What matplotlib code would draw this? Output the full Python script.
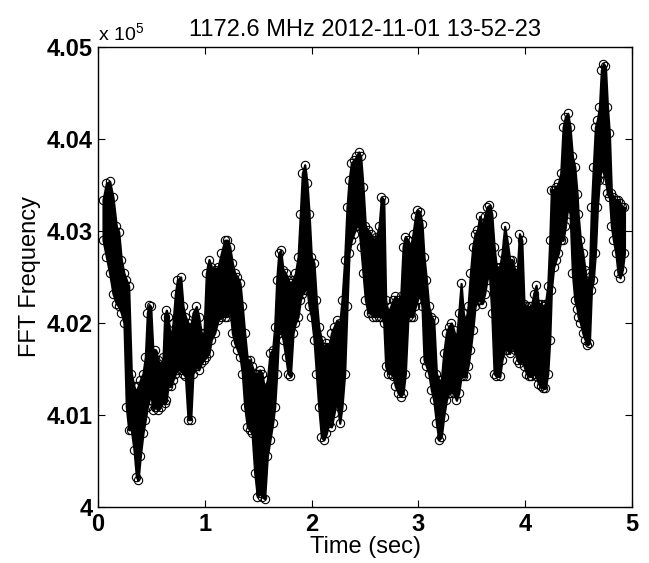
import numpy as np
import matplotlib
matplotlib.use("Agg")
import matplotlib.pyplot as plt

plt.rcParams.update({
    "font.family": ["Liberation Sans", "DejaVu Sans"],
    "mathtext.fontset": "custom",
    "mathtext.rm": "Liberation Sans",
    "axes.linewidth": 1.0,
})

TITLE = "1172.6 MHz 2012-11-01 13-52-23"

# time (s) of the trace, with the upper / lower edge of the dense marker band (Hz)
T = [0.047, 0.078, 0.109, 0.140, 0.172, 0.194, 0.218, 0.243, 0.265, 0.287,
     0.312, 0.337, 0.359, 0.375, 0.396, 0.421, 0.443, 0.462, 0.478, 0.493,
     0.515, 0.537, 0.562, 0.587, 0.609, 0.624, 0.640, 0.655, 0.680, 0.702,
     0.724, 0.743, 0.774, 0.796, 0.818, 0.843, 0.868, 0.889, 0.921, 0.943,
     0.967, 0.992, 1.014, 1.039, 1.061, 1.092, 1.124, 1.155, 1.186, 1.211,
     1.233, 1.258, 1.280, 1.305, 1.330, 1.351, 1.373, 1.398, 1.420, 1.442,
     1.467, 1.492, 1.514, 1.535, 1.560, 1.585, 1.610, 1.635, 1.654, 1.673,
     1.692, 1.710, 1.732, 1.757, 1.779, 1.801, 1.826, 1.848, 1.873, 1.894,
     1.913, 1.935, 1.957, 1.976, 1.997, 2.022, 2.044, 2.066, 2.091, 2.113,
     2.138, 2.160, 2.185, 2.210, 2.235, 2.263, 2.284, 2.309, 2.331, 2.350,
     2.372, 2.394, 2.419, 2.441, 2.459, 2.481, 2.503, 2.528, 2.553, 2.578,
     2.606, 2.631, 2.653, 2.675, 2.693, 2.715, 2.740, 2.762, 2.784, 2.809,
     2.834, 2.856, 2.877, 2.902, 2.927, 2.949, 2.971, 2.990, 3.012, 3.033,
     3.052, 3.074, 3.096, 3.121, 3.143, 3.168, 3.190, 3.214, 3.236, 3.261,
     3.283, 3.308, 3.330, 3.355, 3.377, 3.399, 3.420, 3.442, 3.464, 3.486,
     3.508, 3.530, 3.552, 3.573, 3.595, 3.620, 3.642, 3.664, 3.686, 3.708,
     3.729, 3.761, 3.782, 3.807, 3.829, 3.854, 3.876, 3.901, 3.923, 3.945,
     3.967, 3.988, 4.010, 4.032, 4.057, 4.079, 4.101, 4.123, 4.145, 4.166,
     4.188, 4.210, 4.229, 4.244, 4.266, 4.288, 4.310, 4.332, 4.354, 4.375,
     4.397, 4.419, 4.441, 4.463, 4.485, 4.494, 4.516, 4.538, 4.559, 4.581,
     4.600, 4.619, 4.637, 4.656, 4.675, 4.694, 4.712, 4.731, 4.750, 4.769,
     4.787, 4.806, 4.825, 4.847, 4.868, 4.887, 4.909, 4.928]

F_HIGH = [403340, 403520, 403540, 403370, 403050, 402990, 402690, 402540, 402470, 402400,
          401450, 401310, 401240, 401310, 401380, 401450, 401630, 402110, 402200, 402180,
          401670, 401710, 401600, 401530, 401630, 402070, 402140, 402070, 401820, 402000,
          402320, 402470, 402500, 402180, 402070, 402000, 401960, 402110, 402180, 402070,
          401890, 401890, 402540, 402690, 402610, 402580, 402610, 402760, 402900, 402900,
          402830, 402650, 402540, 402500, 402430, 402180, 401890, 401600, 401600, 401530,
          401450, 401450, 401490, 401450, 401270, 401380, 401670, 401710, 401960, 402470,
          402760, 402790, 402580, 402540, 402470, 402430, 402470, 402540, 402720, 403190,
          403630, 403720, 403520, 403190, 402720, 402650, 402250, 401960, 401820, 401740,
          401780, 401740, 401890, 401960, 402030, 402000, 402250, 402690, 403260, 403550,
          403740, 403770, 403810, 403860, 403810, 403480, 403050, 403010, 402970, 402900,
          402940, 403050, 403370, 403340, 402250, 402110, 402180, 402250, 402290, 402250,
          402290, 402830, 402940, 402900, 402830, 402970, 403160, 403230, 403210, 403080,
          402720, 402470, 402180, 402070, 402030, 401450, 401380, 401380, 401670, 401890,
          401960, 402000, 401920, 401820, 402110, 402430, 402110, 402000, 402180, 402540,
          402830, 402970, 403010, 403160, 403050, 403160, 403260, 403280, 403190, 402830,
          402610, 402610, 402760, 403050, 402900, 402690, 402690, 402580, 402540, 402970,
          402900, 402210, 402180, 402180, 402180, 402320, 402410, 402210, 402210, 402180,
          402210, 402400, 402900, 403450, 403450, 403480, 403520, 403630, 404130, 404240,
          404280, 404130, 403810, 403700, 403400, 403190, 402900, 402760, 402580, 402400,
          402540, 403260, 403700, 404130, 404210, 404350, 404750, 404820, 404790, 404350,
          404060, 403410, 403370, 403340, 403340, 403300, 403260, 403260]

F_LOW = [402900, 402720, 402540, 402320, 402210, 402180, 402110, 402000, 401090, 400840,
         400840, 400620, 400330, 400290, 400550, 400800, 400950, 401090, 401160, 401240,
         401050, 401090, 401050, 401090, 401160, 401130, 401160, 401310, 401310, 401380,
         401450, 401490, 401490, 401450, 401420, 400950, 400950, 401450, 401530, 401490,
         401560, 401600, 401630, 401670, 401820, 401890, 402030, 402070, 402070, 402070,
         402180, 401890, 401780, 401710, 401630, 401450, 401090, 400870, 400840, 400800,
         400370, 400110, 400150, 400110, 400090, 400550, 400730, 400910, 401090, 401450,
         401890, 401920, 401820, 401630, 401450, 401420, 401890, 402000, 402070, 402250,
         402320, 402360, 402360, 402180, 402070, 401820, 401450, 401090, 400760, 400730,
         400800, 400910, 400870, 401020, 401160, 400910, 401090, 401450, 402180, 402760,
         402900, 402970, 403050, 403050, 402830, 402540, 402250, 402110, 402110, 402070,
         402070, 402070, 402070, 402000, 401530, 401450, 401450, 401420, 401310, 401240,
         401200, 401240, 401450, 402070, 402070, 402070, 402180, 402250, 402320, 402180,
         401600, 401530, 401450, 401270, 401160, 400910, 400730, 400760, 400980, 401160,
         401240, 401240, 401240, 401160, 401240, 401420, 401420, 401420, 401530, 401710,
         401920, 402180, 402250, 402250, 402210, 402320, 402470, 402540, 402110, 401450,
         401420, 401420, 401600, 401710, 401710, 401670, 401740, 401710, 401600, 401560,
         401600, 401530, 401450, 401420, 401420, 401450, 401420, 401340, 401310, 401290,
         401290, 401450, 401820, 402360, 402610, 402690, 402760, 402900, 402900, 403050,
         403260, 403190, 402540, 402250, 402150, 402070, 402000, 401890, 401820, 401760,
         401780, 402360, 402470, 402760, 403260, 403550, 403700, 403630, 403550, 403410,
         403370, 403050, 402900, 402760, 402540, 402490, 402580, 402760]

XTICKS = [0, 1, 2, 3, 4, 5]
YTICKS = [4.00, 4.01, 4.02, 4.03, 4.04, 4.05]
YTICK_LABELS = ["4", "4.01", "4.02", "4.03", "4.04", "4.05"]

t = np.array(T)
hi = np.array(F_HIGH) / 1e5
lo = np.array(F_LOW) / 1e5

fig = plt.figure(figsize=(6.49, 5.63), dpi=100)
ax = fig.add_axes([0.151, 0.0995, 0.823, 0.817])

# dense circle markers merge into a solid band in the original
ax.fill_between(t, lo, hi, facecolor="black", edgecolor="black", lw=1.6,
                joinstyle="round")
for edge in (hi, lo):
    ax.plot(t, edge, "o", ms=6, mfc="none", mec="black", mew=0.8)

ax.set_xlim(0, 5)
ax.set_ylim(4.0, 4.05)
ax.set_xticks(XTICKS)
ax.set_xticklabels([str(x) for x in XTICKS], fontsize=17, fontweight="bold")
ax.set_yticks(YTICKS)
ax.set_yticklabels(YTICK_LABELS, fontsize=17, fontweight="bold")
ax.tick_params(direction="in", top=True, right=True, length=5, width=0.8, pad=4)

ax.set_xlabel("Time (sec)", fontsize=17, labelpad=0)
ax.set_ylabel("FFT Frequency", fontsize=17, labelpad=4)
ax.set_title(TITLE, fontsize=17, pad=8)
ax.text(0.0, 1.005, r"x 10$^{\mathregular{5}}$", transform=ax.transAxes,
        fontsize=14, ha="left", va="bottom")

fig.savefig("out.png", dpi=100)
